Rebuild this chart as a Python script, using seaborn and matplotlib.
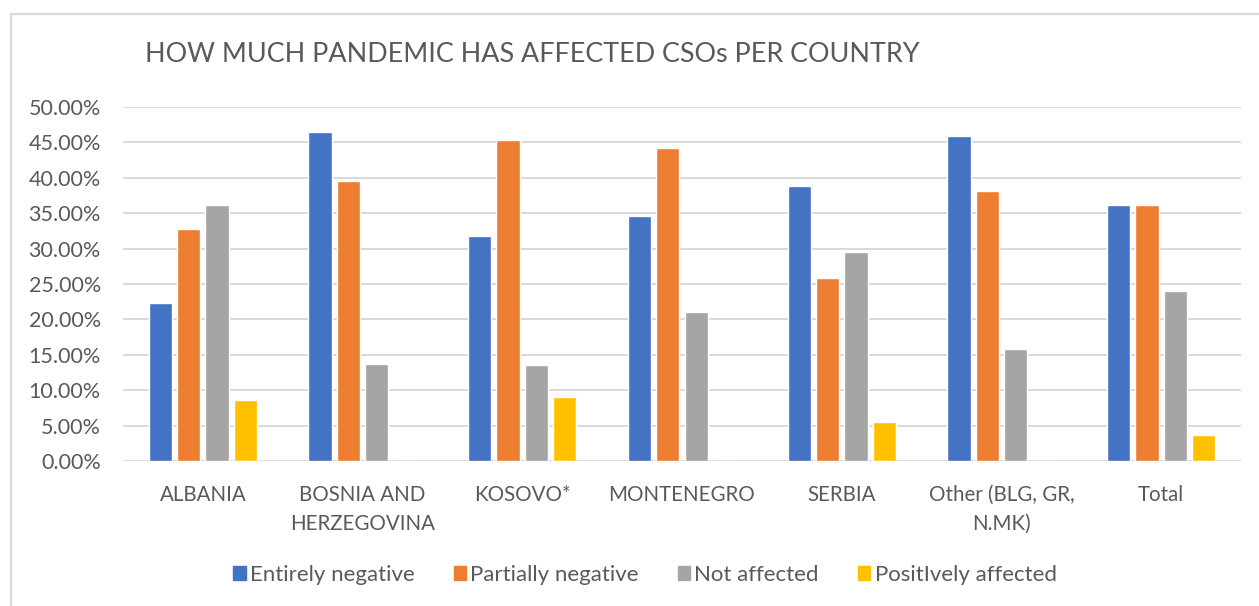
import matplotlib
matplotlib.use("Agg")
import matplotlib.pyplot as plt
import matplotlib.patches as mpatches
from matplotlib.ticker import FuncFormatter, MultipleLocator
import seaborn as sns
import pandas as pd

# Share of CSOs (%) by how strongly the pandemic affected them
countries = ["ALBANIA", "BOSNIA AND\nHERZEGOVINA", "KOSOVO*", "MONTENEGRO",
             "SERBIA", "Other (BLG, GR,\nN.MK)", "Total"]
series = ["Entirely negative", "Partially negative", "Not affected", "PositIvely affected"]
entirely_negative = [22.3, 46.5, 31.8, 34.6, 38.8, 45.9, 36.1]
partially_negative = [32.7, 39.6, 45.3, 44.2, 25.8, 38.1, 36.1]
not_affected = [36.1, 13.7, 13.5, 21.1, 29.5, 15.8, 24.0]
positively_affected = [8.6, 0.0, 9.0, 0.0, 5.5, 0.0, 3.7]
colors = ["#4472C4", "#ED7D31", "#A5A5A5", "#FFC000"]

rows = []
for name, vals in zip(series, [entirely_negative, partially_negative,
                               not_affected, positively_affected]):
    for c, v in zip(countries, vals):
        rows.append({"country": c, "series": name, "value": v})
df = pd.DataFrame(rows)

sns.set_theme(style="white")
plt.rcParams["font.family"] = ["Lato", "DejaVu Sans"]
text_color = "#595959"
grid_color = "#D9D9D9"

W, H = 1259, 606
fig = plt.figure(figsize=(W / 100, H / 100), dpi=100)
fig.patch.set_facecolor("white")
ax = fig.add_axes([123 / W, 1 - 461 / H, (1241 - 123) / W, (461 - 107) / H])

sns.barplot(data=df, x="country", y="value", hue="series", order=countries,
            hue_order=series, palette=colors, saturation=1, width=0.71,
            gap=0.18, legend=False, ax=ax, zorder=3)

ax.set_ylim(0, 50)
ax.set_xlim(-0.5, len(countries) - 0.5)
ax.yaxis.set_major_locator(MultipleLocator(5))
ax.yaxis.set_major_formatter(FuncFormatter(lambda v, _: f"{v:.2f}%"))
ax.grid(axis="y", color=grid_color, linewidth=1.4, zorder=0)
ax.set_axisbelow(True)
for s in ax.spines.values():
    s.set_visible(False)
ax.set_xlabel("")
ax.set_ylabel("")
ax.tick_params(axis="both", length=0, colors=text_color)
ax.tick_params(axis="y", pad=16, labelsize=15.5)
ax.tick_params(axis="x", pad=17, labelsize=14.8)
for lbl in ax.get_xticklabels():
    lbl.set_linespacing(1.6)
    lbl.set_verticalalignment("top")

fig.text(145 / W, 1 - 55 / H, "HOW MUCH PANDEMIC HAS AFFECTED CSOs PER COUNTRY",
         fontsize=19.4, color=text_color, va="center", ha="left")

handles = [mpatches.Patch(color=c, label=s) for c, s in zip(colors, series)]
leg = fig.legend(handles=handles, loc="center", bbox_to_anchor=(645 / W, 1 - 575 / H),
                 ncol=4, frameon=False, fontsize=16, handlelength=0.55,
                 handleheight=0.55, handletextpad=0.2, columnspacing=1.75)
for t in leg.get_texts():
    t.set_color(text_color)

# Chart border
fig.patches.append(mpatches.Rectangle((11 / W, -0.1), 1.2, 1 - 14 / H + 0.1,
                                      transform=fig.transFigure, fill=False,
                                      edgecolor=grid_color, linewidth=1.6))

fig.savefig("out.png", dpi=100, facecolor="white")
